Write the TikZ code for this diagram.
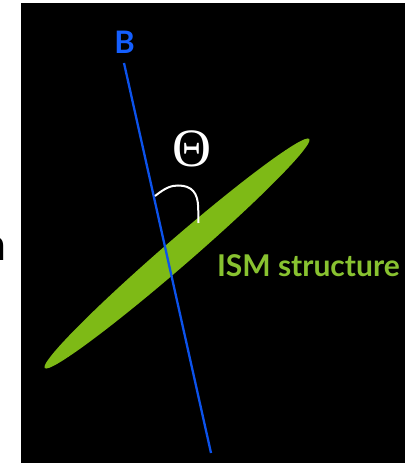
\documentclass[tikz,border=0pt]{standalone}
\usepackage{fontspec}
\newfontfamily\gill{Lato}
\newfontfamily\serifth{Liberation Serif}
\definecolor{bfield}{RGB}{12,82,235}
\definecolor{bfieldlbl}{RGB}{20,95,255}
\definecolor{ismgreen}{RGB}{126,186,22}
\definecolor{ismtext}{RGB}{136,194,48}
\tikzset{
  fieldline/.style={draw=bfield, line width=2.3pt},
  anglemark/.style={draw=white, line width=2pt},
  lbl/.style={inner sep=0pt, outer sep=0pt}
}
\begin{document}
\begin{tikzpicture}[x=1pt,y=1pt]
\useasboundingbox (0,0) rectangle (405,463);
\fill[black] (21,0) rectangle (405,460);
% partial text at left edge
\node[lbl, anchor=base east, font=\gill\fontsize{45}{50}\selectfont] (cut) at (6.5,202) {n};
% ISM structure (ellipse)
\fill[ismgreen] (177,209.5) ellipse[x radius=175, y radius=13.5, rotate=40.9];
% B field line
\node[lbl, text=bfieldlbl, font=\gill\bfseries\fontsize{31}{34}\selectfont] (B) at (124.5,421) {B};
\coordinate (btop) at (124,400);
\coordinate (bbot) at (211,10);
\draw[fieldline] (btop) -- (bbot);
% angle
\coordinate (a1) at (155,267);
\coordinate (a2) at (198.5,240);
\draw[anglemark] (a1) .. controls (165,275) and (171,277.5) .. (178,277.5) .. controls (192,277.5) and (198,270) .. (198.2,255) -- (a2);
\node[lbl, text=white, font=\serifth\fontsize{54}{58}\selectfont] (theta) at (191.5,314.5) {Θ};
\node[lbl, anchor=base west, text=ismtext, font=\gill\bfseries\fontsize{30}{34}\selectfont] (ism) at (217,186) {ISM structure};
\end{tikzpicture}
\end{document}
